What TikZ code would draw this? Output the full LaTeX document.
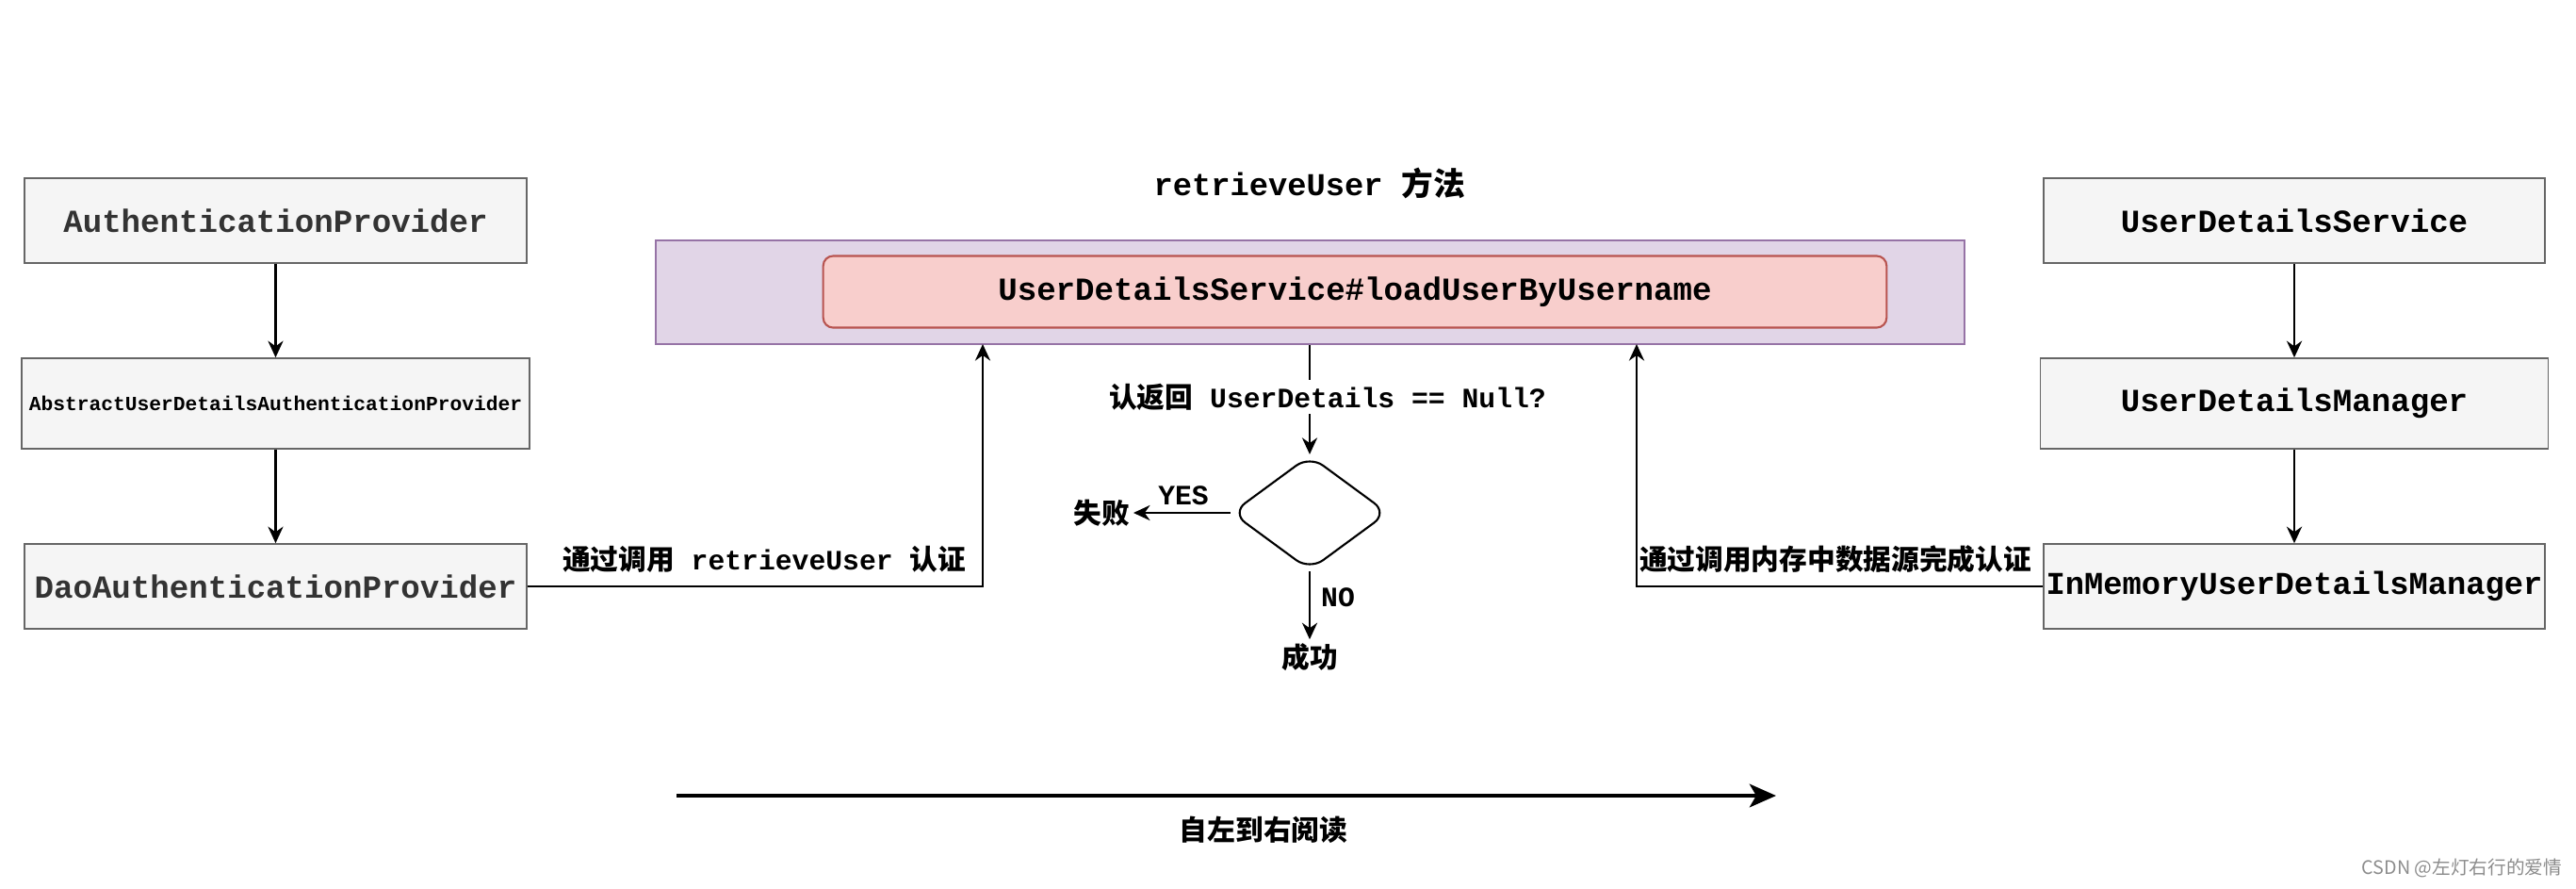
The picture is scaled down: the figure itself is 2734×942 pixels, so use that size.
\documentclass[tikz,border=0pt]{standalone}
\usepackage{fontspec}
\setmainfont{Liberation Mono}
\newfontfamily\cjk{Noto Sans CJK SC}
\usepackage{tikz}
\usetikzlibrary{arrows.meta,shapes.geometric}

\definecolor{boxfill}{HTML}{F5F5F5}
\definecolor{boxline}{HTML}{666666}
\definecolor{purplefill}{HTML}{E1D5E7}
\definecolor{purpleline}{HTML}{9673A6}
\definecolor{pinkfill}{HTML}{F8CECC}
\definecolor{pinkline}{HTML}{B85450}

\newcommand{\fs}[1]{\bfseries\fontsize{#1}{#1}\selectfont}

\tikzset{
  cls/.style={draw=boxline, fill=boxfill, line width=0.45pt, inner sep=0pt,
    minimum width=5.33cm, minimum height=0.9cm, font=\fs{9.7}},
  arr/.style={-{Stealth[length=5pt,width=4.6pt]}, line width=0.6pt},
  lbl/.style={font=\fs{8.45}, inner sep=1pt}
}

\begin{document}
\begin{tikzpicture}[x=0.01cm, y=-0.01cm]
\useasboundingbox (0,0) rectangle (2734,942);

% left column
\node[cls, text=black!80] (auth) at (292.5,234) {AuthenticationProvider};
\node[cls, minimum width=5.39cm, minimum height=0.96cm, font=\fs{6.05}] (abs) at (292.5,428) {AbstractUserDetailsAuthenticationProvider};
\node[cls, text=black!80] (dao) at (292.5,622) {DaoAuthenticationProvider};
\draw[arr] (auth) -- (abs);
\draw[arr] (abs) -- (dao);

% right column
\node[cls, minimum width=5.32cm] (uds) at (2435,234) {UserDetailsService};
\node[cls, minimum width=5.39cm, minimum height=0.96cm] (udm) at (2435,428) {UserDetailsManager};
\node[cls, minimum width=5.32cm, font=\fs{9.6}] (imu) at (2435,622) {InMemoryUserDetailsManager};
\draw[arr] (uds) -- (udm);
\draw[arr] (udm) -- (imu);

% retrieveUser
\node[font=\fs{9.6}] (title) at (1390,194) {retrieveUser {\cjk 方法}};
\node[draw=purpleline, fill=purplefill, line width=0.6pt, minimum width=13.89cm, minimum height=1.10cm] (method) at (1390.5,310) {};
\node[draw=pinkline, fill=pinkfill, line width=0.6pt, rounded corners=3pt, minimum width=11.28cm, minimum height=0.76cm, font=\fs{9.7}] (load) at (1438,309.5) {UserDetailsService\#loadUserByUsername};

% null check
\node[draw, diamond, aspect=1.37, minimum width=1.66cm, minimum height=1.22cm, rounded corners=5pt, line width=0.6pt, inner sep=0pt] (dec) at (1390,544) {};
\draw[arr] (method.south -| dec) -- (dec);
\node[lbl, fill=white] (chk) at (1409,421) {{\cjk 认返回} UserDetails == Null?};
\node[lbl] (fail) at (1169,544) {\cjk 失败};
\node[lbl] (succ) at (1390,697) {\cjk 成功};
\draw[arr] (dec) -- (fail);
\draw[arr] (dec) -- (succ);
\node[lbl] (yes) at (1256,526) {YES};
\node[lbl] (no) at (1420,634) {NO};

% calls
\coordinate (inL) at (1043,365);
\coordinate (inR) at (1737,365);
\draw[arr] (dao.east) -| (inL);
\draw[arr] (imu.west) -| (inR);
\node[lbl] (viaL) at (811,593) {{\cjk 通过调用} retrieveUser {\cjk 认证}};
\node[lbl] (viaR) at (1948,593) {\cjk 通过调用内存中数据源完成认证};

% reading order
\coordinate (rs) at (718,844);
\coordinate (re) at (1885,844);
\draw[-{Stealth[length=8pt,width=7pt,inset=2pt]}, line width=1.15pt] (rs) -- (re);
\node[lbl] (read) at (1341,880) {\cjk 自左到右阅读};

\node[font=\cjk\fontsize{5.6}{6}\selectfont, text=black!45] (mark) at (2613,921) {CSDN @左灯右行的爱情};
\end{tikzpicture}
\end{document}
